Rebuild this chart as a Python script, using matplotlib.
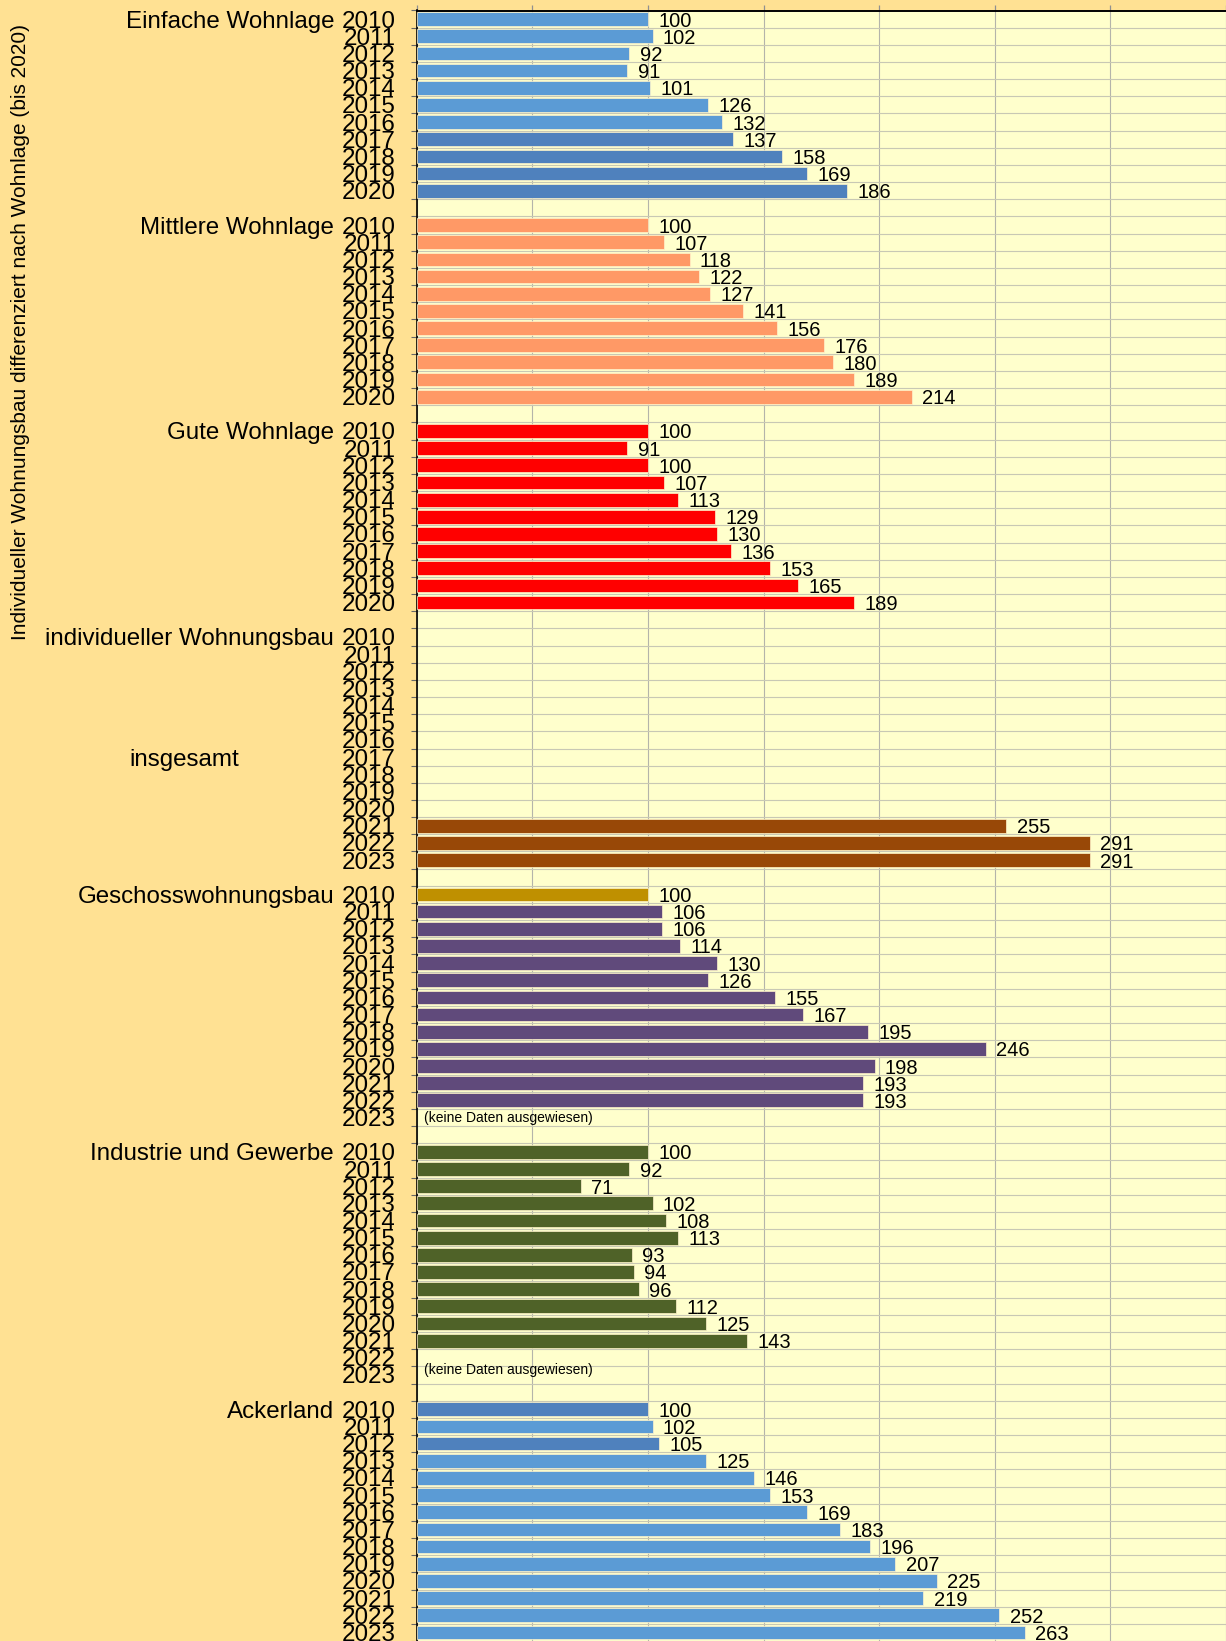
import matplotlib
matplotlib.use("Agg")
import matplotlib.pyplot as plt
from matplotlib.transforms import blended_transform_factory

plt.rcParams['font.family'] = ['Liberation Sans', 'DejaVu Sans']

# --- data -------------------------------------------------------------
groups = ["Einfache Wohnlage", "Mittlere Wohnlage", "Gute Wohnlage",
          "individueller Wohnungsbau", "Geschosswohnungsbau",
          "Industrie und Gewerbe", "Ackerland"]
group_years = [list(range(2010, 2021))] * 3 + [list(range(2010, 2024))] * 4

einfache = [100, 102, 92, 91, 101, 126, 132, 137, 158, 169, 186]
mittlere = [100, 107, 118, 122, 127, 141, 156, 176, 180, 189, 214]
gute = [100, 91, 100, 107, 113, 129, 130, 136, 153, 165, 189]
indiv_insgesamt = [None] * 11 + [255, 291, 291]
geschoss = [100, 106, 106, 114, 130, 126, 155, 167, 195, 246, 198, 193, 193, None]
industrie = [100, 92, 71, 102, 108, 113, 93, 94, 96, 112, 125, 143, None, None]
ackerland = [100, 102, 105, 125, 146, 153, 169, 183, 196, 207, 225, 219, 252, 263]
values = [einfache, mittlere, gute, indiv_insgesamt, geschoss, industrie, ackerland]

light_blue, dark_blue = "#5b9bd5", "#4f81bd"
colors = [
    [light_blue] * 7 + [dark_blue] * 4,
    ["#ff9966"] * 11,
    ["#ff0000"] * 11,
    ["#984807"] * 14,
    ["#bf9000"] + ["#604a7b"] * 13,
    ["#4f6228"] * 14,
    [dark_blue, light_blue, dark_blue] + [light_blue] * 11,
]

# --- figure -------------------------------------------------------------
W, H = 1226, 1641
fig = plt.figure(figsize=(W / 100, H / 100), dpi=100, facecolor="#ffe193")
ax = fig.add_axes([416.7 / W, 0, 1 - 416.7 / W, 1 - 10.5 / H], facecolor="#ffffcc")

rows = []          # (row index, label)
starts = []
r = 0
for gi, yrs in enumerate(group_years):
    starts.append(r)
    for k, yr in enumerate(yrs):
        v = values[gi][k]
        if v is not None:
            ax.barh(r, v, height=0.8, color=colors[gi][k],
                    edgecolor="#fff3cc", linewidth=0.5, zorder=3)
            ax.annotate(str(v), (v, r), xytext=(7.5, 0), textcoords="offset points",
                        ha="left", va="center_baseline", fontsize=14.5, zorder=4)
        rows.append((r, str(yr)))
        r += 1
    r += 1  # blank row between groups
n_rows = r - 1

ax.set_xlim(0, (W - 416.7) / 2.327)
ax.set_ylim(n_rows - 0.5, -0.5)

ax.set_yticks([p for p, _ in rows])
ax.set_yticklabels([l for _, l in rows], fontsize=17.4)
ax.set_yticks([i - 0.5 for i in range(n_rows + 1)], minor=True)
ax.tick_params(axis="y", which="major", length=0, pad=15)
ax.tick_params(axis="y", which="minor", length=4.5, color="#666666", width=0.8)

ax.set_xticks(range(0, 351, 50))
ax.xaxis.tick_top()
ax.tick_params(axis="x", which="major", length=4, color="#909090", width=0.9,
               labeltop=False, labelbottom=False)

ax.grid(axis="x", which="major", color="#b4b4aa", linewidth=0.8, zorder=1)
ax.grid(axis="y", which="minor", color="#c8c8b4", linewidth=0.8, zorder=1)
ax.set_axisbelow(True)

for s in ["right", "bottom"]:
    ax.spines[s].set_visible(False)
ax.spines["top"].set_linewidth(1.4)
ax.spines["left"].set_linewidth(1.2)

# group labels
tr = blended_transform_factory(fig.transFigure, ax.transData)
for gi, name in enumerate(groups):
    ax.text(334 / W, starts[gi], name, transform=tr, ha="right",
            va="center_baseline", fontsize=17.4, clip_on=False)
ax.text(184 / W, starts[3] + 7, "insgesamt", transform=tr, ha="center",
        va="center_baseline", fontsize=17.4, clip_on=False)

# notes for missing data
ax.text(3, starts[4] + 13, "(keine Daten ausgewiesen)", ha="left",
        va="center", fontsize=10, zorder=4)
ax.text(3, starts[5] + 12.7, "(keine Daten ausgewiesen)", ha="left",
        va="center", fontsize=10, zorder=4)

fig.text(21 / W, 1 - 332 / H,
         "Individueller Wohnungsbau differenziert nach Wohnlage (bis 2020)",
         rotation=90, ha="center", va="center", fontsize=15)

fig.savefig("out.png", dpi=100, facecolor=fig.get_facecolor())
